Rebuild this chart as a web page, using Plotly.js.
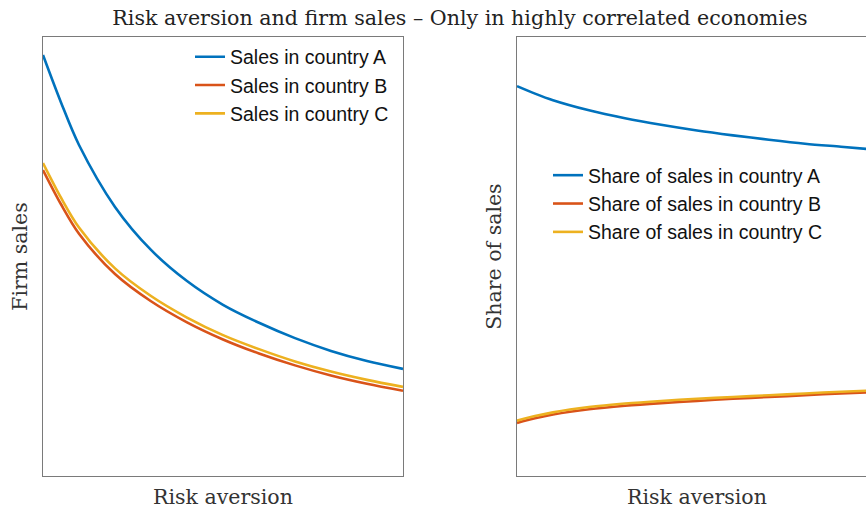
<!DOCTYPE html>
<html>
<head>
<meta charset="utf-8">
<script src="https://cdn.plot.ly/plotly-3.0.1.min.js"></script>
<style>
html,body{margin:0;padding:0;overflow:hidden;background:#fff;}
#chart{width:900px;height:512px;}
</style>
</head>
<body>
<div id="chart"></div>
<script>
// Risk aversion grid (normalized)
const riskAversion = [0, 0.05, 0.1, 0.2, 0.3, 0.4, 0.5, 0.6, 0.7, 0.8, 0.9, 1.0];

// Left panel: firm sales
const salesA = [0.959, 0.851, 0.754, 0.613, 0.515, 0.444, 0.390, 0.349, 0.314, 0.285, 0.262, 0.244];
const salesB = [0.697, 0.619, 0.552, 0.460, 0.398, 0.350, 0.311, 0.279, 0.252, 0.229, 0.210, 0.194];
const salesC = [0.713, 0.634, 0.566, 0.473, 0.410, 0.361, 0.321, 0.289, 0.261, 0.238, 0.219, 0.203];

// Right panel: share of sales
const shareA = [0.888, 0.871, 0.856, 0.833, 0.815, 0.800, 0.787, 0.776, 0.766, 0.757, 0.750, 0.743];
const shareB = [0.121, 0.1315, 0.140, 0.152, 0.160, 0.166, 0.171, 0.176, 0.180, 0.184, 0.188, 0.191];
const shareC = [0.126, 0.1365, 0.145, 0.157, 0.165, 0.171, 0.176, 0.180, 0.184, 0.188, 0.192, 0.195];

const labelsLeft = ['Sales in country A', 'Sales in country B', 'Sales in country C'];
const labelsRight = ['Share of sales in country A', 'Share of sales in country B', 'Share of sales in country C'];
const colors = ['#0072BD', '#D95319', '#EDB120'];

const leftSeries = [salesA, salesB, salesC];
const rightSeries = [shareA, shareB, shareC];

const traces = [];
leftSeries.forEach((ys, i) => traces.push({
  x: riskAversion, y: ys, type: 'scatter', mode: 'lines', name: labelsLeft[i],
  line: {color: colors[i], width: 2.6, shape: 'spline', smoothing: 0.9},
  xaxis: 'x', yaxis: 'y', legend: 'legend'
}));
rightSeries.forEach((ys, i) => traces.push({
  x: riskAversion, y: ys, type: 'scatter', mode: 'lines', name: labelsRight[i],
  line: {color: colors[i], width: 2.6, shape: 'spline', smoothing: 0.9},
  xaxis: 'x2', yaxis: 'y2', legend: 'legend2'
}));

const serif = 'DejaVu Serif, Liberation Serif, serif';
const sans = 'Liberation Sans, Arial, sans-serif';

const axBase = {
  showticklabels: false, ticks: '', showgrid: false, zeroline: false,
  showline: true, mirror: true, linecolor: '#7a7a7a', linewidth: 1.2,
  range: [0, 1], fixedrange: true
};
const axTitleFont = {family: serif, size: 20.5, color: '#333'};

const layout = {
  width: 900, height: 512,
  margin: {l: 43, r: 23, t: 37, b: 36},
  paper_bgcolor: '#fff', plot_bgcolor: '#fff',
  title: {
    text: 'Risk aversion and firm sales – Only in highly correlated economies',
    font: {family: serif, size: 20.6, color: '#222'},
    xref: 'container', x: 460/900, xanchor: 'center',
    yref: 'container', y: 1 - 18/512, yanchor: 'middle'
  },
  xaxis: Object.assign({}, axBase, {domain: [0, 360/834], anchor: 'y',
    title: {text: 'Risk aversion', font: axTitleFont, standoff: 13}}),
  yaxis: Object.assign({}, axBase, {domain: [0, 1], anchor: 'x',
    title: {text: 'Firm sales', font: axTitleFont, standoff: 8}}),
  xaxis2: Object.assign({}, axBase, {domain: [474/834, 1], anchor: 'y2',
    title: {text: 'Risk aversion', font: axTitleFont, standoff: 13}}),
  yaxis2: Object.assign({}, axBase, {domain: [0, 1], anchor: 'x2',
    title: {text: 'Share of sales', font: axTitleFont, standoff: 8}}),
  legend: {
    xref: 'paper', yref: 'paper', x: (190-43)/834, y: 1 - (37.5-37)/439,
    xanchor: 'left', yanchor: 'top', bgcolor: 'rgba(0,0,0,0)', borderwidth: 0,
    font: {family: sans, size: 19.5, color: '#111'}, itemwidth: 30
  },
  legend2: {
    xref: 'paper', yref: 'paper', x: (548-43)/834, y: 1 - (156-37)/439,
    xanchor: 'left', yanchor: 'top', bgcolor: 'rgba(0,0,0,0)', borderwidth: 0,
    font: {family: sans, size: 19.5, color: '#111'}, itemwidth: 30
  },
  showlegend: true
};

Plotly.newPlot('chart', traces, layout, {displayModeBar: false, staticPlot: true});
</script>
</body>
</html>
